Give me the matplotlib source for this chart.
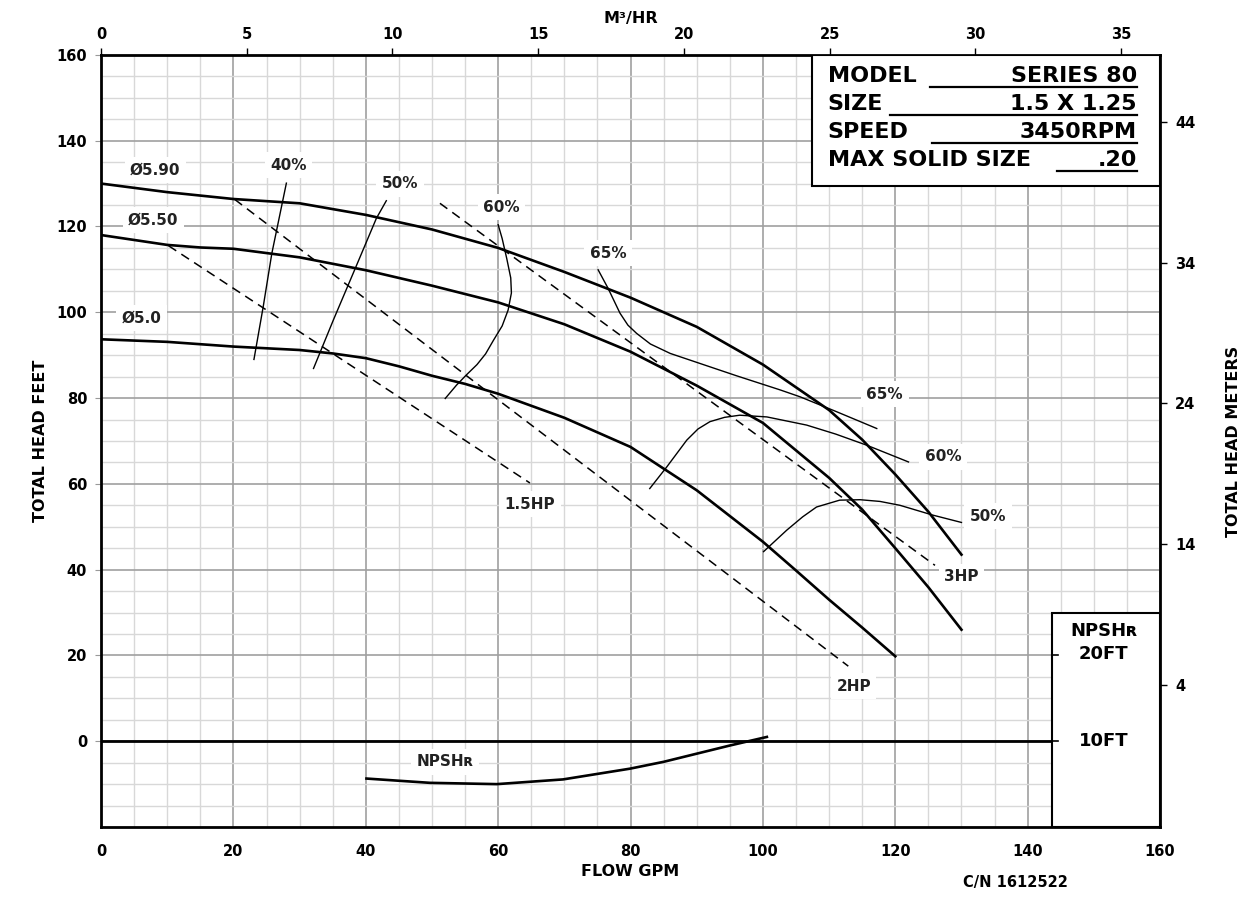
import numpy as np
import matplotlib.pyplot as plt
from matplotlib.patches import Rectangle

plt.rcParams['font.family'] = ['DejaVu Sans']
plt.rcParams['font.weight'] = 'bold'
plt.rcParams['axes.labelweight'] = 'bold'

# impeller curves (flow gpm, head ft)
flow_590 = [0, 10, 20, 30, 40, 50, 60, 70, 80, 90, 100, 110, 115, 120, 125, 130]
head_590 = [130, 128, 126.4, 125.4, 122.7, 119.3, 115, 109.4, 103.4, 96.6, 87.8, 77.2, 70.3, 62.2, 53.5, 43.5]
flow_550 = [0, 10, 15, 20, 30, 40, 50, 60, 70, 80, 90, 100, 110, 115, 120, 125, 130]
head_550 = [118, 115.7, 115.1, 114.8, 112.8, 109.8, 106.2, 102.3, 97.2, 90.8, 82.9, 74.2, 61.4, 54, 45, 35.9, 26]
flow_500 = [0, 10, 20, 30, 35, 40, 45, 50, 55, 60, 70, 80, 90, 100, 105, 110, 115, 120]
head_500 = [93.7, 93.1, 92, 91.2, 90.4, 89.3, 87.4, 85.2, 83.3, 81.0, 75.4, 68.6, 58.5, 46.5, 39.8, 33, 26.5, 19.8]

# efficiency lines
flow_e40 = [28.0, 25.8, 24.5, 23.1]
head_e40 = [130.1, 113.7, 101.3, 89.0]
flow_e50 = [43.1, 41.6, 38.4, 35.1, 32.1]
head_e50 = [126.0, 121.9, 110.2, 98.2, 86.9]
flow_e60 = [60.0, 60.6, 61.3, 61.9, 62.0, 61.5, 60.6, 59.3, 58.1, 56.8, 55.2, 53.7, 52.0]
head_e60 = [120.4, 117.2, 112.5, 108.0, 104.5, 100.5, 96.8, 93.5, 90.3, 87.8, 85.4, 83.0, 79.9]
flow_e65 = [75.1, 76.6, 78.4, 79.6, 80.9, 83.0, 86.0, 91.0, 96.0, 102.6, 105.6, 111.0, 117.2]
head_e65 = [109.9, 105.6, 99.8, 97.0, 95.1, 92.6, 90.4, 87.8, 85.2, 81.9, 80.3, 76.9, 72.9]
flow_e60b = [82.9, 85.5, 88.5, 90.2, 92.0, 94.2, 96.5, 100.6, 106.6, 111.0, 115.7, 122.0]
head_e60b = [58.9, 64.0, 70.2, 72.8, 74.5, 75.5, 76.0, 75.6, 73.7, 71.6, 69.0, 65.1]
flow_e50b = [100.1, 103.6, 106.0, 108.1, 111.6, 114.7, 117.7, 120.7, 125.7, 130.0]
head_e50b = [44.2, 49.2, 52.3, 54.6, 56.2, 56.3, 55.9, 55.0, 52.7, 51.0]

# horsepower lines
flow_hp15 = [10.2, 64.8]
head_hp15 = [115.5, 60.2]
flow_hp2 = [20.2, 112.9]
head_hp2 = [126.3, 17.5]
flow_hp3 = [51.2, 126.0]
head_hp3 = [125.4, 41.0]

# NPSHr curve (plotted on head scale, 0 ft head = 10 ft NPSH)
flow_npsh = [40.1, 49.7, 59.8, 69.8, 79.9, 85.0, 90.0, 95.0, 100.6]
head_npsh = [-8.7, -9.7, -10.0, -8.9, -6.4, -4.8, -2.9, -1.0, 1.0]

labels = ['Ø5.90', 'Ø5.50', 'Ø5.0', '40%', '50%', '60%', '65%', '65%', '60%', '50%',
          '1.5HP', '2HP', '3HP', 'NPSHʀ']
label_x = [8.2, 7.9, 6.1, 28.3, 45.2, 60.5, 76.6, 118.4, 127.2, 134.0, 64.8, 113.7, 130.0, 52.0]
label_y = [133.2, 121.5, 98.6, 134.3, 130.0, 124.5, 113.7, 80.9, 66.3, 52.5, 55.2, 12.8, 38.3, -4.8]

model_rows = ['MODEL', 'SIZE', 'SPEED', 'MAX SOLID SIZE']
model_vals = ['SERIES 80', '1.5 X 1.25', '3450RPM', '.20']

fig = plt.figure(figsize=(12.4, 9.01), dpi=100)
ax = fig.add_axes([0.0815, 0.0821, 0.854, 0.857])
ax.set_xlim(0, 160)
ax.set_ylim(-20, 160)

ax.set_xticks(np.arange(0, 161, 20))
ax.set_xticks(np.arange(0, 161, 5), minor=True)
ax.set_yticks(np.arange(0, 161, 20))
ax.set_yticks(np.arange(-20, 161, 5), minor=True)
ax.grid(which='minor', color='#d8d8d8', lw=1.0)
ax.grid(which='major', color='#a0a0a0', lw=1.2)
ax.set_axisbelow(True)
ax.tick_params(which='minor', length=0)
ax.tick_params(axis='x', which='major', length=0, pad=12, labelsize=10.5)
ax.tick_params(axis='y', which='major', length=4, color='#999999', pad=6, labelsize=10.5)
for s in ax.spines.values():
    s.set_linewidth(2)

ax.axhline(0, xmin=0, xmax=143.7 / 160, color='black', lw=2)

lw_main = 1.9
ax.plot(flow_590, head_590, color='black', lw=lw_main)
ax.plot(flow_550, head_550, color='black', lw=lw_main)
ax.plot(flow_500, head_500, color='black', lw=lw_main)
ax.plot(flow_npsh, head_npsh, color='black', lw=lw_main)

for fx, hy in [(flow_e40, head_e40), (flow_e50, head_e50), (flow_e60, head_e60),
               (flow_e65, head_e65), (flow_e60b, head_e60b), (flow_e50b, head_e50b)]:
    ax.plot(fx, hy, color='black', lw=1.0)

for fx, hy in [(flow_hp15, head_hp15), (flow_hp2, head_hp2), (flow_hp3, head_hp3)]:
    ax.plot(fx, hy, color='black', lw=1.1, dashes=(6, 4))

for t, x, y in zip(labels, label_x, label_y):
    ax.text(x, y, t, ha='center', va='center', fontsize=11, color='#222222',
            bbox=dict(facecolor='white', edgecolor='none', pad=4))

# model box
ax.add_patch(Rectangle((107.4, 129.5), 52.6, 30.5, facecolor='white', edgecolor='black', lw=1.5, zorder=5))
row_y = [155.1, 148.6, 142.0, 135.5]
line_start = [125.2, 119.2, 125.5, 144.4]
for name, val, y, x0 in zip(model_rows, model_vals, row_y, line_start):
    ax.text(109.8, y, name, ha='left', va='center', fontsize=16, zorder=6)
    ax.text(156.5, y, val, ha='right', va='center', fontsize=16, zorder=6)
    ax.plot([x0, 156.5], [y - 2.6, y - 2.6], color='black', lw=1.6, zorder=6)

# NPSHr box
ax.add_patch(Rectangle((143.7, -20), 16.3, 50, facecolor='white', edgecolor='black', lw=1.5, zorder=5))
ax.text(151.5, 25.7, 'NPSHʀ', ha='center', va='center', fontsize=13, zorder=6)
ax.text(151.5, 20.3, '20FT', ha='center', va='center', fontsize=13, zorder=6)
ax.text(151.5, 0, '10FT', ha='center', va='center', fontsize=13, zorder=6)
ax.plot([143.7, 144.6], [20, 20], color='black', lw=1.2, zorder=6)
ax.plot([143.7, 144.6], [0, 0], color='black', lw=1.2, zorder=6)

ax.set_xlabel('FLOW GPM', fontsize=11.5, labelpad=4)
ax.set_ylabel('TOTAL HEAD FEET', fontsize=11.5, labelpad=6)

gpm_per_m3 = 4.4029
top = ax.secondary_xaxis('top', functions=(lambda g: g / gpm_per_m3, lambda m: m * gpm_per_m3))
top.set_xticks([0, 5, 10, 15, 20, 25, 30, 35])
top.tick_params(length=5, width=1, pad=4, labelsize=10.5)
top.set_xlabel('M³/HR', fontsize=11.5, labelpad=3)

ft_per_m = 3.28084
right = ax.secondary_yaxis('right', functions=(lambda f: f / ft_per_m, lambda m: m * ft_per_m))
right.set_yticks([4, 14, 24, 34, 44])
right.tick_params(length=5, width=1, pad=6, labelsize=10.5)
right.set_ylabel('TOTAL HEAD METERS', fontsize=11.5, labelpad=22)

fig.text(1015 / 1240, 1 - 882 / 901, 'C/N 1612522', ha='center', va='center', fontsize=10.5)

fig.savefig('out.png', dpi=100, facecolor='white')
